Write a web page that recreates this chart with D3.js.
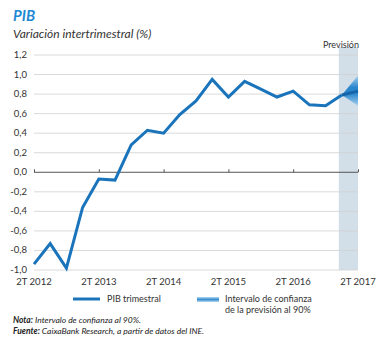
<!DOCTYPE html>
<html>
<head>
<meta charset="utf-8">
<script src="https://cdn.jsdelivr.net/npm/d3@7"></script>
<style>
  body { margin: 0; background: #fff; }
  svg { font-family: Lato, 'Open Sans', sans-serif; }
</style>
</head>
<body>
<div id="chart"></div>
<script>
const quarters = ['2T 2012', '3T 2012', '4T 2012', '1T 2013', '2T 2013', '3T 2013', '4T 2013',
  '1T 2014', '2T 2014', '3T 2014', '4T 2014', '1T 2015', '2T 2015', '3T 2015', '4T 2015',
  '1T 2016', '2T 2016', '3T 2016', '4T 2016', '1T 2017', '2T 2017']
const pib = [-0.94, -0.73, -0.98, -0.36, -0.07, -0.08, 0.28, 0.43, 0.4, 0.59, 0.73, 0.95,
  0.77, 0.93, 0.85, 0.77, 0.83, 0.69, 0.68, 0.79]
const forecast = { value: 0.83, low: 0.68, high: 0.99 }
const xTicks = ['2T 2012', '2T 2013', '2T 2014', '2T 2015', '2T 2016', '2T 2017']
const yTicks = [-1.0, -0.8, -0.6, -0.4, -0.2, 0, 0.2, 0.4, 0.6, 0.8, 1.0, 1.2]

const width = 382
const height = 338
const margin = { top: 55, left: 34, right: 24, bottom: 68 }

const svg = d3
  .select('#chart')
  .append('svg')
  .attr('width', width)
  .attr('height', height)

const blue = '#1a74bb'
const fmt = d => d3.format('.1f')(d).replace('.', ',').replace('−', '-')

const x = d3
  .scalePoint()
  .domain(quarters)
  .range([margin.left, width - margin.right])

const y = d3
  .scaleLinear()
  .domain([-1.0, 1.2])
  .range([height - margin.bottom, margin.top])

// title
svg.append('text')
  .attr('x', 13).attr('y', 21)
  .attr('fill', '#1f8ad3')
  .style('font-size', '15px')
  .style('font-weight', 'bold')
  .style('font-style', 'italic')
  .text('PIB')

svg.append('text')
  .attr('x', 13).attr('y', 38)
  .attr('fill', '#333')
  .style('font-size', '12px')
  .style('font-style', 'italic')
  .text('Variación intertrimestral (%)')

// forecast shading
const step = x.step()
svg.append('rect')
  .attr('x', x('1T 2017') - 3)
  .attr('y', y(1.2) - 8)
  .attr('width', x('2T 2017') - x('1T 2017') + 3)
  .attr('height', y(-1.0) - y(1.2) + 8)
  .attr('fill', '#d3dfe8')

svg.append('text')
  .attr('x', x('2T 2017') + 1)
  .attr('y', 48)
  .attr('text-anchor', 'end')
  .attr('fill', '#333')
  .style('font-size', '9px')
  .text('Previsión')

// grid
svg.append('g')
  .selectAll('line')
  .data(yTicks.filter(d => d !== 0))
  .enter()
  .append('line')
  .attr('x1', margin.left)
  .attr('x2', width - margin.right)
  .attr('y1', d => y(d))
  .attr('y2', d => y(d))
  .attr('stroke', '#d0d0d0')
  .attr('stroke-width', 0.8)

// y labels
svg.append('g')
  .selectAll('text')
  .data(yTicks)
  .enter()
  .append('text')
  .attr('x', 27)
  .attr('y', d => y(d) + 3)
  .attr('text-anchor', 'end')
  .attr('fill', '#333')
  .style('font-size', '9.5px')
  .text(fmt)

// zero axis with ticks
const xAxis = d3.axisTop(x).tickValues(xTicks).tickSize(3).tickFormat('')
svg.append('g')
  .attr('transform', `translate(0,${y(0)})`)
  .call(xAxis)
  .call(g => g.select('.domain').attr('stroke', '#555').attr('d', `M${margin.left},0H${width - margin.right}`))
  .call(g => g.selectAll('.tick line').attr('stroke', '#555'))

// x labels
svg.append('g')
  .selectAll('text')
  .data(xTicks)
  .enter()
  .append('text')
  .attr('x', d => x(d))
  .attr('y', height - margin.bottom + 15)
  .attr('text-anchor', 'middle')
  .attr('fill', '#333')
  .style('font-size', '9.5px')
  .text(d => d)

// fan gradient
const defs = svg.append('defs')
const grad = defs.append('linearGradient')
  .attr('id', 'fan')
  .attr('gradientUnits', 'userSpaceOnUse')
  .attr('x1', 0).attr('x2', 0)
  .attr('y1', y(forecast.high)).attr('y2', y(forecast.low))
grad.append('stop').attr('offset', '0%').attr('stop-color', '#a9d2f0')
grad.append('stop').attr('offset', '40%').attr('stop-color', '#2a86cc')
grad.append('stop').attr('offset', '60%').attr('stop-color', '#2a86cc')
grad.append('stop').attr('offset', '100%').attr('stop-color', '#a9d2f0')

const lastQ = quarters[pib.length - 1]
const fcQ = quarters[pib.length]
svg.append('path')
  .attr('d', d3.line()([
    [x(lastQ), y(pib[pib.length - 1])],
    [x(fcQ), y(forecast.high)],
    [x(fcQ), y(forecast.low)]
  ]) + 'Z')
  .attr('fill', 'url(#fan)')

svg.append('path')
  .attr('d', d3.line()([
    [x(lastQ), y(pib[pib.length - 1])],
    [x(fcQ), y(forecast.value)]
  ]))
  .attr('stroke', '#1565a8')
  .attr('stroke-width', 3)

// main line
const line = d3.line()
  .x((d, i) => x(quarters[i]))
  .y(d => y(d))

svg.append('path')
  .datum(pib)
  .attr('d', line)
  .attr('fill', 'none')
  .attr('stroke', blue)
  .attr('stroke-width', 3)
  .attr('stroke-linejoin', 'miter')

// legend
svg.append('line')
  .attr('x1', 73).attr('x2', 100)
  .attr('y1', 299).attr('y2', 299)
  .attr('stroke', blue)
  .attr('stroke-width', 3)
svg.append('text')
  .attr('x', 107).attr('y', 302)
  .attr('fill', '#333')
  .style('font-size', '9px')
  .text('PIB trimestral')

const lg = defs.append('linearGradient')
  .attr('id', 'leg')
  .attr('x1', 0).attr('x2', 0).attr('y1', 0).attr('y2', 1)
lg.append('stop').attr('offset', '0%').attr('stop-color', '#b3d8f2')
lg.append('stop').attr('offset', '50%').attr('stop-color', '#3b8fd0')
lg.append('stop').attr('offset', '100%').attr('stop-color', '#b3d8f2')
svg.append('rect')
  .attr('x', 197).attr('y', 297)
  .attr('width', 22).attr('height', 5)
  .attr('fill', 'url(#leg)')
svg.append('text')
  .attr('x', 225).attr('y', 302)
  .attr('fill', '#333')
  .style('font-size', '9px')
  .text('Intervalo de confianza')
svg.append('text')
  .attr('x', 225).attr('y', 313)
  .attr('fill', '#333')
  .style('font-size', '9px')
  .text('de la previsión al 90%')

// notes
const notes = [
  ['Nota:', ' Intervalo de confianza al 90%.'],
  ['Fuente:', ' CaixaBank Research, a partir de datos del INE.']
]
notes.forEach((n, i) => {
  const t = svg.append('text')
    .attr('x', 13).attr('y', 323 + i * 11)
    .attr('fill', '#222')
    .style('font-size', '8.5px')
    .style('font-style', 'italic')
  t.append('tspan').style('font-weight', 'bold').text(n[0])
  t.append('tspan').text(n[1])
})
</script>
</body>
</html>
